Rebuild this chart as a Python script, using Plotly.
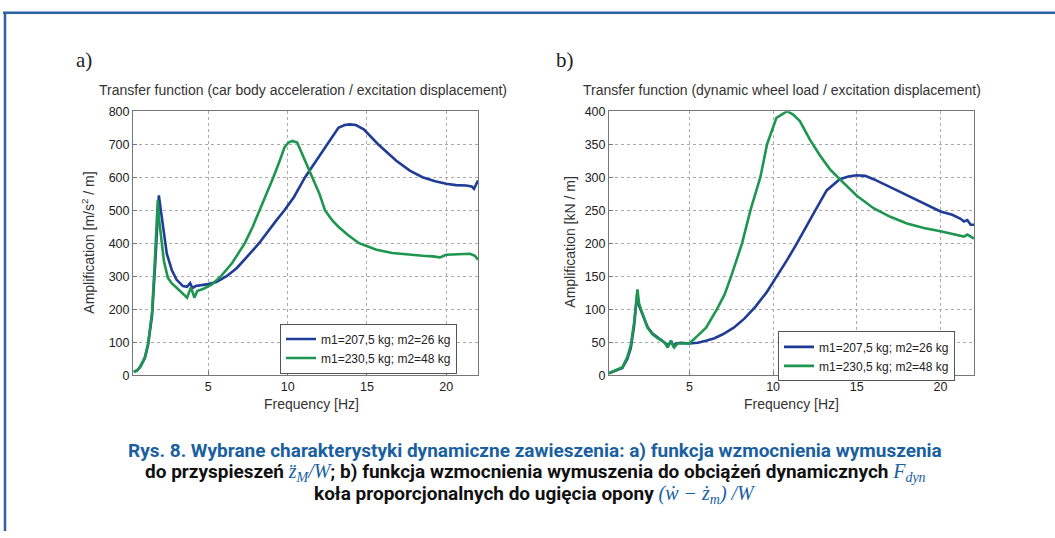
import plotly.graph_objects as go

W, H = 1055, 538

# a) car body acceleration / excitation displacement
fa_blue = [0.3, 0.5, 0.7, 1.0, 1.2, 1.45, 1.65, 1.8, 1.88, 1.96, 2.17, 2.38, 2.7, 3.0, 3.4, 3.65, 3.85, 4.0,
           4.2, 4.6, 5.0, 5.5, 6.15, 6.8, 7.3, 7.8, 8.2, 8.8, 9.3, 9.8, 10.4, 11.1, 11.8, 12.45, 13.2, 13.6,
           13.9, 14.3, 14.8, 15.7, 16.85, 17.7, 18.5, 19.3, 20.0, 20.6, 21.25, 21.6, 21.75, 21.9, 22.0]
va_blue = [10, 14, 25, 52, 92, 180, 338, 476, 545, 516, 437, 368, 318, 289, 270, 268, 279, 264,
           270, 272, 276, 282, 300, 325, 350, 378, 400, 440, 470, 500, 540, 600, 650, 700, 750, 758,
           760, 758, 745, 700, 650, 620, 600, 588, 580, 576, 575, 572, 565, 580, 590]

fa_green = [0.3, 0.5, 0.7, 1.0, 1.2, 1.45, 1.62, 1.75, 1.81, 1.9, 2.05, 2.2, 2.45, 2.7, 3.0, 3.3, 3.66,
            3.9, 4.12, 4.3, 4.7, 5.2, 5.8, 6.5, 7.3, 7.8, 8.25, 8.7, 9.1, 9.5, 9.8, 10.05, 10.3, 10.6,
            11.08, 11.55, 12.0, 12.35, 12.8, 13.2, 13.8, 14.5, 15.0, 15.6, 16.6, 17.6, 18.5, 19.15,
            19.6, 20.0, 21.0, 21.5, 21.8, 22.0]
va_green = [10, 14, 25, 55, 95, 190, 340, 480, 530, 470, 400, 345, 295, 278, 265, 252, 235,
            266, 235, 255, 262, 274, 300, 340, 400, 450, 500, 550, 600, 650, 690, 705, 710, 705,
            650, 600, 550, 500, 470, 450, 425, 400, 390, 380, 370, 365, 362, 360,
            357, 365, 366, 368, 362, 350]

# b) dynamic wheel load / excitation displacement
fb_blue = [0.2, 0.6, 1.0, 1.3, 1.5, 1.7, 1.88, 2.0, 2.3, 2.5, 2.8, 3.1, 3.5, 3.75, 3.9, 4.05, 4.2, 4.5,
           5.0, 5.5, 6.0, 6.5, 7.0, 7.65, 8.3, 8.95, 9.6, 10.24, 10.85, 11.43, 12.0, 12.53, 13.2,
           13.98, 14.5, 15.0, 15.5, 16.0, 17.0, 18.0, 19.0, 20.0, 20.7, 21.2, 21.4, 21.6, 21.8, 22.0]
vb_blue = [3, 7, 11, 25, 41, 75, 122, 105, 85, 73, 63, 57, 50, 45, 52, 44, 48, 49,
           48, 49, 52, 56, 62, 72, 86, 104, 125, 150, 175, 200, 225, 250, 280,
           297, 301, 303, 302, 297, 285, 273, 260, 248, 243, 237, 233, 235, 228, 228]

fb_green = [0.2, 0.6, 1.0, 1.3, 1.5, 1.7, 1.9, 2.0, 2.3, 2.5, 2.8, 3.1, 3.5, 3.7, 3.9, 4.1, 4.3, 4.6,
            5.0, 5.5, 6.0, 6.65, 7.1, 7.5, 8.15, 8.65, 9.24, 9.64, 10.2, 10.84, 11.2, 11.6, 12.2,
            12.8, 13.4, 13.98, 14.5, 15.0, 16.0, 17.0, 18.0, 19.0, 20.0, 21.0, 21.4, 21.6, 22.0]
vb_green = [3, 7, 12, 28, 45, 80, 130, 108, 85, 72, 62, 56, 50, 42, 52, 42, 48, 48,
            48, 60, 72, 100, 122, 150, 200, 250, 300, 350, 390, 400, 395, 385, 357,
            333, 312, 297, 285, 272, 253, 240, 230, 223, 218, 212, 210, 213, 207]

names = ["m1=207,5 kg; m2=26 kg", "m1=230,5 kg; m2=48 kg"]
colors = ["#1f3c96", "#1e9650"]

ticks_a = [0, 100, 200, 300, 400, 500, 600, 700, 800]
ticks_b = [0, 50, 100, 150, 200, 250, 300, 350, 400]
ticks_x = [5, 10, 15, 20]


def px(x):
    return x / W


def py(y):
    return 1 - y / H


fig = go.Figure()
for xs, ys, nm, c in [(fa_blue, va_blue, names[0], colors[0]), (fa_green, va_green, names[1], colors[1])]:
    fig.add_trace(go.Scatter(x=xs, y=ys, name=nm, mode="lines", line=dict(color=c, width=2.6),
                             xaxis="x", yaxis="y", legend="legend"))
for xs, ys, nm, c in [(fb_blue, vb_blue, names[0], colors[0]), (fb_green, vb_green, names[1], colors[1])]:
    fig.add_trace(go.Scatter(x=xs, y=ys, name=nm, mode="lines", line=dict(color=c, width=2.6),
                             xaxis="x2", yaxis="y2", legend="legend2"))

tickfont = dict(family="Liberation Sans, Arial", size=12.5, color="#222")
ax = dict(showline=True, mirror=True, linecolor="#777", linewidth=1, ticks="inside", ticklen=4,
          tickcolor="#777", showgrid=True, gridcolor="#aaa", griddash="dot", gridwidth=1,
          zeroline=False, tickfont=tickfont)
legfont = dict(family="Liberation Sans, Arial", size=12, color="#222")

fig.update_layout(
    width=W, height=H, margin=dict(l=0, r=0, t=0, b=0),
    paper_bgcolor="white", plot_bgcolor="white",
    xaxis=dict(ax, domain=[px(133), px(478)], range=[0.25, 22], tickvals=ticks_x, anchor="y"),
    yaxis=dict(ax, domain=[py(378), py(107)], range=[0, 800], tickvals=ticks_a, anchor="x"),
    xaxis2=dict(ax, domain=[px(609), px(974)], range=[0.2, 22], tickvals=ticks_x, anchor="y2"),
    yaxis2=dict(ax, domain=[py(378), py(107)], range=[0, 400], tickvals=ticks_b, anchor="x2"),
    legend=dict(x=px(280), y=py(325), xanchor="left", yanchor="top", bgcolor="white",
                bordercolor="#555", borderwidth=1, font=legfont, tracegroupgap=0),
    legend2=dict(x=px(778), y=py(333), xanchor="left", yanchor="top", bgcolor="white",
                 bordercolor="#555", borderwidth=1, font=legfont, tracegroupgap=0),
    showlegend=True,
)

lab = dict(family="Liberation Sans, Arial", size=14, color="#333")
ann = [
    dict(x=px(84), y=py(54), text="a)", font=dict(family="Liberation Serif, serif", size=21, color="#222")),
    dict(x=px(565), y=py(54), text="b)", font=dict(family="Liberation Serif, serif", size=21, color="#222")),
    dict(x=px(303), y=py(85), text="Transfer function (car body acceleration / excitation displacement)", font=lab),
    dict(x=px(782), y=py(85), text="Transfer function (dynamic wheel load / excitation displacement)", font=lab),
    dict(x=px(88), y=py(242), text="Amplification [m/s<sup>2</sup> / m]", textangle=-90, font=lab),
    dict(x=px(570), y=py(242), text="Amplification [kN / m]", textangle=-90, font=lab),
    dict(x=px(311), y=py(408), text="Frequency [Hz]", font=lab),
    dict(x=px(791), y=py(408), text="Frequency [Hz]", font=lab),
]

cap = dict(family="Roboto, sans-serif", size=19)
m = '<span style="font-family:Liberation Serif, serif;font-style:italic;color:#1a5fa0;font-size:20px">%s</span>'
line1 = "<b>Rys. 8. Wybrane charakterystyki dynamiczne zawieszenia: a) funkcja wzmocnienia wymuszenia</b>"
line2 = ("<b>do przyspieszeń </b>" + m % "z\u0308<sub>M</sub>/W" +
         "<b>; b) funkcja wzmocnienia wymuszenia do obciążeń dynamicznych </b>" + m % "F<sub>dyn</sub>")
line3 = "<b>koła proporcjonalnych do ugięcia opony </b>" + m % "(ẇ − ż<sub>m</sub>) /W"
ann += [
    dict(x=px(535), y=py(455), text=line1, font=dict(cap, color="#1a5fa0")),
    dict(x=px(535), y=py(478), text=line2, font=dict(cap, color="#111")),
    dict(x=px(535), y=py(501), text=line3, font=dict(cap, color="#111")),
]
for a in ann:
    a.update(xref="paper", yref="paper", showarrow=False, xanchor="center", yanchor="middle")
fig.update_layout(annotations=ann)

fig.update_layout(shapes=[
    dict(type="line", xref="paper", yref="paper", x0=px(3), x1=1, y0=py(6), y1=py(6),
         line=dict(color="#2a64a4", width=2.5)),
    dict(type="line", xref="paper", yref="paper", x0=px(5), x1=px(5), y0=py(6), y1=0,
         line=dict(color="#2a64a4", width=2.5)),
])

fig.write_html("out.html", config={"displayModeBar": False},
               post_script="document.body.style.margin='0';document.body.style.overflow='hidden';")
